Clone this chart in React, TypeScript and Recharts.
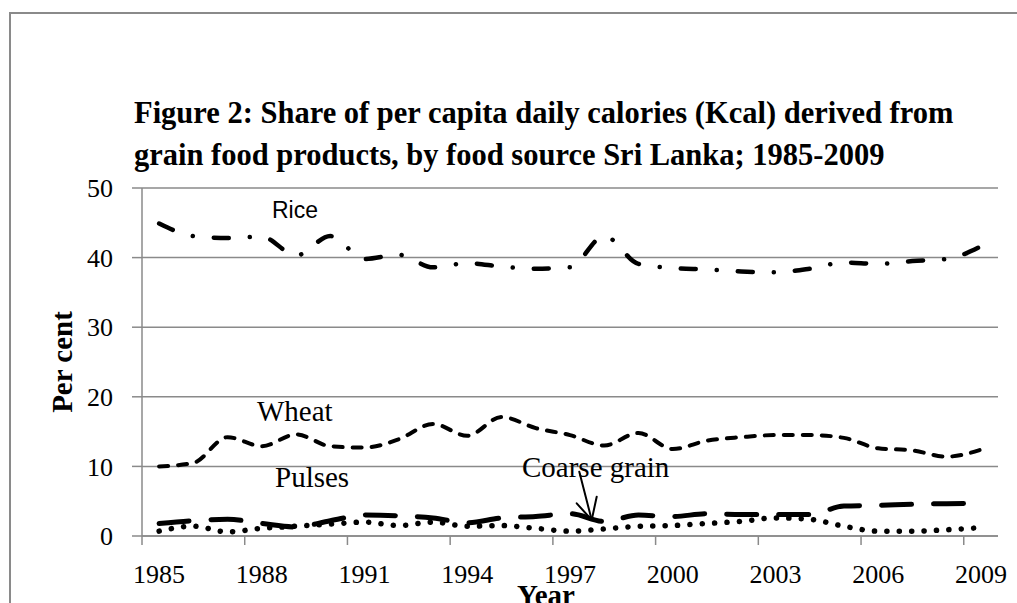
import React from 'react';
import { LineChart, Line, XAxis, YAxis, CartesianGrid } from 'recharts';

const years = [
  1985, 1986, 1987, 1988, 1989, 1990, 1991, 1992, 1993, 1994, 1995, 1996, 1997,
  1998, 1999, 2000, 2001, 2002, 2003, 2004, 2005, 2006, 2007, 2008, 2009,
];
const rice = [
  44.9, 43.1, 42.8, 43.0, 40.3, 43.1, 39.8, 40.4, 38.6, 39.2, 38.7, 38.4, 38.6,
  43.1, 39.1, 38.5, 38.3, 38.0, 37.9, 38.4, 39.3, 39.1, 39.5, 39.8, 41.6,
];
const wheat = [
  10.0, 10.5, 14.2, 12.9, 14.6, 12.9, 12.7, 13.9, 16.1, 14.4, 17.1, 15.5, 14.5,
  13.0, 14.8, 12.5, 13.7, 14.2, 14.5, 14.5, 14.1, 12.6, 12.3, 11.4, 12.4,
];
const coarseGrain = [
  1.8, 2.2, 2.4, 1.8, 1.3, 2.2, 3.0, 2.9, 2.6, 1.9, 2.6, 2.8, 3.2,
  2.1, 3.0, 2.8, 3.2, 3.1, 3.1, 3.1, 4.3, 4.4, 4.55, 4.65, 4.7,
];
const pulses = [
  0.7, 1.4, 0.6, 1.1, 1.4, 1.7, 2.0, 1.5, 2.0, 1.4, 1.5, 1.1, 0.7,
  1.0, 1.4, 1.5, 1.8, 2.1, 2.6, 2.4, 1.4, 0.7, 0.7, 0.9, 1.2,
];
const xTickYears = [1985, 1988, 1991, 1994, 1997, 2000, 2003, 2006, 2009];
const yTicks = [0, 10, 20, 30, 40, 50];

const data = years.map((year, i) => ({
  year,
  rice: rice[i],
  wheat: wheat[i],
  coarseGrain: coarseGrain[i],
  pulses: pulses[i],
}));

const W = 1017;
const H = 603;
const PLOT_LEFT = 142;
const PLOT_RIGHT = 998;
const PLOT_BOTTOM = 536;
const HALF_STEP = (PLOT_RIGHT - PLOT_LEFT) / years.length / 2;
const GRID = '#8a8a8a';
const SERIF = "'Liberation Serif', 'Times New Roman', serif";

const YearTick = (props: any) => {
  const { x, payload } = props;
  return (
    <g>
      <line
        x1={x - HALF_STEP}
        x2={x - HALF_STEP}
        y1={PLOT_BOTTOM}
        y2={PLOT_BOTTOM + 9}
        stroke={GRID}
        strokeWidth={1.5}
      />
      <text x={x} y={583} textAnchor="middle" fontSize={26} fontFamily={SERIF} fill="#000">
        {payload.value}
      </text>
    </g>
  );
};

export default function App() {
  return (
    <div style={{ position: 'absolute', left: 0, top: 0, width: W, height: H, background: '#fff' }}>
      <LineChart
        width={W}
        height={H}
        data={data}
        margin={{ top: 188, right: W - PLOT_RIGHT, bottom: H - PLOT_BOTTOM - 50, left: PLOT_LEFT - 60 }}
      >
        <CartesianGrid vertical={false} stroke={GRID} strokeWidth={1.5} />
        <XAxis
          dataKey="year"
          type="number"
          domain={[1984.5, 2009.5]}
          ticks={xTickYears}
          interval={0}
          height={50}
          axisLine={{ stroke: GRID, strokeWidth: 1.5 }}
          tickLine={false}
          tick={<YearTick />}
        />
        <YAxis
          domain={[0, 50]}
          ticks={yTicks}
          width={60}
          axisLine={{ stroke: GRID, strokeWidth: 1.5 }}
          tickLine={{ stroke: GRID, strokeWidth: 1.5 }}
          tickSize={10}
          tickMargin={19}
          tick={{ fontSize: 26, fontFamily: SERIF, fill: '#000' }}
        />
        <Line
          dataKey="rice"
          type="monotone"
          stroke="#000"
          strokeWidth={4.5}
          strokeDasharray="15 21 0.1 21"
          strokeLinecap="round"
          dot={false}
          activeDot={false}
          isAnimationActive={false}
        />
        <Line
          dataKey="wheat"
          type="monotone"
          stroke="#000"
          strokeWidth={4}
          strokeDasharray="9 10"
          strokeLinecap="round"
          dot={false}
          activeDot={false}
          isAnimationActive={false}
        />
        <Line
          dataKey="coarseGrain"
          type="monotone"
          stroke="#000"
          strokeWidth={5}
          strokeDasharray="30 22"
          strokeLinecap="round"
          dot={false}
          activeDot={false}
          isAnimationActive={false}
        />
        <Line
          dataKey="pulses"
          type="monotone"
          stroke="#000"
          strokeWidth={5.5}
          strokeDasharray="0.1 12.3"
          strokeLinecap="round"
          dot={false}
          activeDot={false}
          isAnimationActive={false}
        />
      </LineChart>
      <svg
        width={W}
        height={H}
        style={{ position: 'absolute', left: 0, top: 0, pointerEvents: 'none' }}
      >
        <rect x={10} y={13} width={1200} height={800} fill="none" stroke={GRID} strokeWidth={2} />
        <text x={134} y={123} fontSize={30.5} fontWeight="bold" fontFamily={SERIF} fill="#000">
          Figure 2: Share of per capita daily calories (Kcal) derived from
        </text>
        <text x={134} y={165} fontSize={30.5} fontWeight="bold" fontFamily={SERIF} fill="#000">
          grain food products, by food source Sri Lanka; 1985-2009
        </text>
        <text
          transform="translate(72, 362) rotate(-90)"
          textAnchor="middle"
          fontSize={29}
          fontWeight="bold"
          fontFamily={SERIF}
          fill="#000"
        >
          Per cent
        </text>
        <text x={546} y={605} textAnchor="middle" fontSize={29} fontWeight="bold" fontFamily={SERIF} fill="#000">
          Year
        </text>
        <text
          x={272}
          y={218}
          fontSize={23}
          fontFamily="'Liberation Sans Narrow', 'Liberation Sans', Arial, sans-serif"
          fill="#000"
        >
          Rice
        </text>
        <text x={257} y={421} fontSize={29} fontFamily={SERIF} fill="#000">
          Wheat
        </text>
        <text x={275} y={487} fontSize={29} fontFamily={SERIF} fill="#000">
          Pulses
        </text>
        <text x={522} y={477} fontSize={29} fontFamily={SERIF} fill="#000">
          Coarse grain
        </text>
        <g stroke="#000" strokeWidth={2} strokeLinecap="round">
          <line x1={579.3} y1={471.7} x2={591.7} y2={520} />
          <line x1={576.7} y1={503.3} x2={591.7} y2={520} />
          <line x1={596.7} y1={496.7} x2={591.7} y2={520} />
        </g>
      </svg>
    </div>
  );
}
